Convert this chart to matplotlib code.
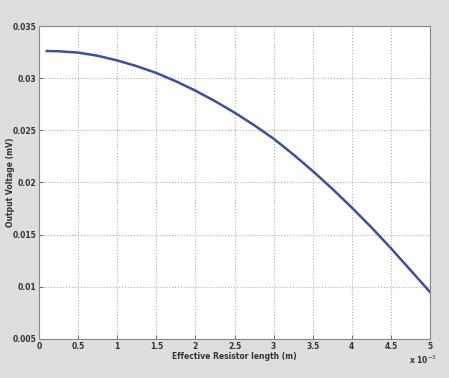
import matplotlib
matplotlib.use("Agg")
import matplotlib.pyplot as plt

# effective resistor length (x 1e-3 m) and output voltage (mV)
length = [0.1, 0.25, 0.5, 0.75, 1.0, 1.25, 1.5, 1.75, 2.0, 2.25, 2.5, 2.75,
          3.0, 3.25, 3.5, 3.75, 4.0, 4.25, 4.5, 4.75, 5.0]
voltage = [0.0326, 0.03258, 0.03245, 0.03215, 0.0317, 0.03115, 0.0305, 0.0297, 0.0288, 0.0278,
           0.0267, 0.0255, 0.0242, 0.0227, 0.0211, 0.0194, 0.0176, 0.0157, 0.0137, 0.0116, 0.0095]

x_ticks = [0, 0.5, 1, 1.5, 2, 2.5, 3, 3.5, 4, 4.5, 5]
x_labels = ["0", "0.5", "1", "1.5", "2", "2.5", "3", "3.5", "4", "4.5", "5"]
y_ticks = [0.005, 0.01, 0.015, 0.02, 0.025, 0.03, 0.035]
y_labels = ["0.005", "0.01", "0.015", "0.02", "0.025", "0.03", "0.035"]

plt.rcParams['font.family'] = ['Liberation Sans Narrow', 'DejaVu Sans']

fig = plt.figure(figsize=(4.49, 3.78), dpi=100, facecolor="#dedede")
ax = fig.add_axes([0.0869, 0.1032, 0.8708, 0.828])
ax.set_facecolor("white")

ax.plot(length, voltage, color="#3a50a0", linewidth=1.8)

ax.set_xlim(0, 5)
ax.set_ylim(0.005, 0.035)
ax.set_xticks(x_ticks)
ax.set_xticklabels(x_labels)
ax.set_yticks(y_ticks)
ax.set_yticklabels(y_labels)
ax.tick_params(direction="in", length=3, width=0.6, labelsize=5.5,
               colors="#555555", labelcolor="#333333", pad=2)
for lbl in ax.get_xticklabels() + ax.get_yticklabels():
    lbl.set_fontweight("bold")
for s in ax.spines.values():
    s.set_color("#888888")
    s.set_linewidth(0.8)
ax.grid(True, linestyle=":", color="#b0b0b0", linewidth=0.8)

ax.set_xlabel("Effective Resistor length (m)", fontsize=5.5, color="#333333",
              fontweight="bold", labelpad=1)
ax.set_ylabel("Output Voltage (mV)", fontsize=5.5, color="#333333", fontweight="bold")
ax.yaxis.set_label_coords(-0.062, 0.5)
fig.text(0.912, 0.036, r"x 10$^{-3}$", fontsize=5.5, color="#333333", fontweight="bold")

fig.savefig("out.png", dpi=100, facecolor=fig.get_facecolor())
